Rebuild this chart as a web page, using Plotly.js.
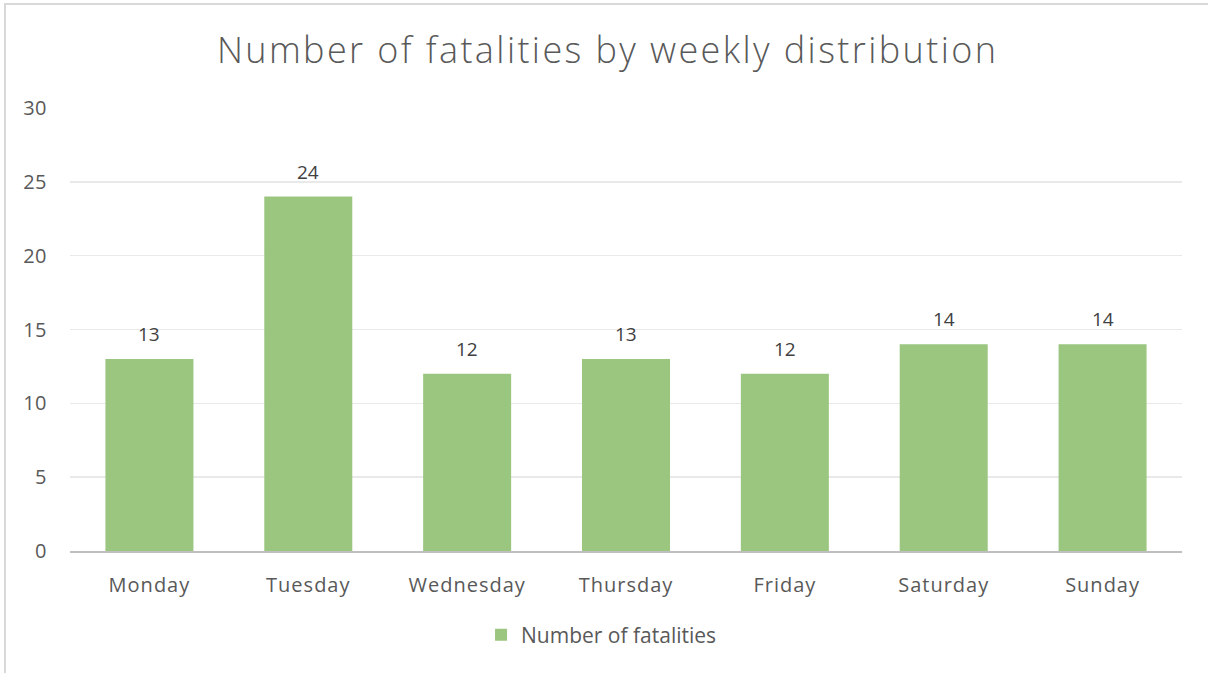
<!DOCTYPE html>
<html><head><meta charset="utf-8">
<script src="https://cdn.plot.ly/plotly-3.0.1.min.js"></script>
<style>
html,body{margin:0;padding:0;background:#fff;}
#wrap{position:relative;width:1208px;height:673px;overflow:hidden;}
#frame{position:absolute;left:4px;top:3px;width:1300px;height:800px;border:2px solid #d9d9d9;box-sizing:border-box;}
#chart{position:absolute;left:0;top:0;width:1208px;height:673px;}
#chart .gtitle{letter-spacing:2.4px;}
#chart .xtick text{letter-spacing:1px;}
#chart .ytick text{letter-spacing:0.5px;}
</style></head>
<body><div id="wrap"><div id="frame"></div><div id="chart"></div></div>
<script>
const days = ["Monday","Tuesday","Wednesday","Thursday","Friday","Saturday","Sunday"];
const fatalities = [13,24,12,13,12,14,14];
const seriesName = "Number of fatalities";
const yTicks = [0,5,10,15,20,25,30];

const font = "'Open Sans', sans-serif";
const trace = {
  type:"bar", x:days, y:fatalities, name:seriesName,
  marker:{color:"#9bc67f"}, showlegend:true, hoverinfo:"none"
};
const annotations = days.map((d,i)=>({
  x:d, y:fatalities[i], xref:"x", yref:"y", text:String(fatalities[i]),
  showarrow:false, yanchor:"bottom", yshift:10,
  font:{family:font,size:19,color:"#404040"}
}));
const layout = {
  width:1208, height:673,
  paper_bgcolor:"rgba(0,0,0,0)", plot_bgcolor:"rgba(0,0,0,0)",
  margin:{l:70,r:26,t:108,b:122},
  title:{text:"Number of fatalities by weekly distribution", x:0.503, xanchor:"center",
    y:1-50/673, yanchor:"middle", yref:"container",
    font:{family:font,size:36,color:"#595959",weight:300}},
  bargap:0.446,
  xaxis:{type:"category", showline:true, linecolor:"#bfbfbf", linewidth:2,
    ticks:"", ticklabelstandoff:15, tickfont:{family:font,size:20,color:"#595959"},
    showgrid:false, zeroline:false, fixedrange:true},
  yaxis:{range:[0,30], tickvals:yTicks, ticktext:yTicks.map(String),
    showgrid:true, gridcolor:"#e9e9e9", gridwidth:1.5, zeroline:false,
    ticks:"", ticklabelstandoff:22, tickfont:{family:font,size:20,color:"#595959"}, fixedrange:true},
  showlegend:true,
  legend:{orientation:"h", x:0.478, xanchor:"center", y:(551-635)/443, yanchor:"middle",
    font:{family:font,size:21,color:"#595959"}, itemwidth:30},
  annotations:annotations
};
Plotly.newPlot("chart",[trace],layout,{displayModeBar:false,staticPlot:true});
</script></body></html>
